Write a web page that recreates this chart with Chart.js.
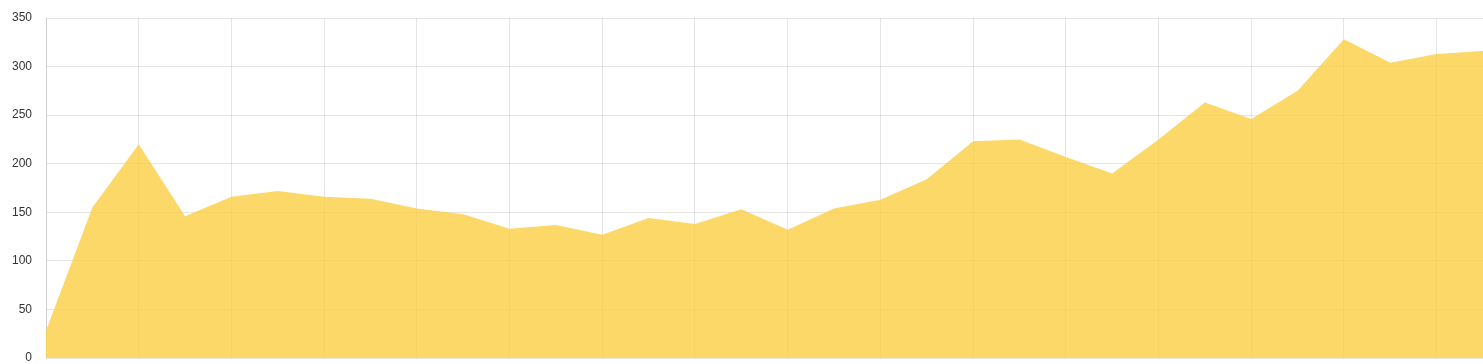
<!DOCTYPE html>
<html>
<head>
<meta charset="utf-8">
<script src="https://cdn.jsdelivr.net/npm/chart.js@4/dist/chart.umd.min.js"></script>
<style>
  html, body { margin: 0; padding: 0; background: #fff; }
  .chart-wrap { position: relative; width: 1483px; height: 364px; }
</style>
</head>
<body>
<div class="chart-wrap"><canvas id="chart-area"></canvas></div>
<script>
// categories (x labels are hidden in the picture)
var labels = ["1", "2", "3", "4", "5", "6", "7", "8", "9", "10", "11", "12", "13", "14", "15", "16",
              "17", "18", "19", "20", "21", "22", "23", "24", "25", "26", "27", "28", "29", "30", "31", "32"];

// series values
var values = [28, 155, 220, 146, 166, 172, 166, 164, 154, 148, 133, 137, 127, 144, 138, 153,
              132, 154, 163, 184, 223, 225, 207, 190, 225, 263, 246, 275, 328, 304, 313, 316];

// y axis range
var yMin = 0;
var yMax = 350;
var yStep = 50;

var gridColor = "rgba(0,0,0,0.1)";

Chart.defaults.font.family = "'Liberation Sans', Arial, sans-serif";
Chart.defaults.font.size = 12;

var ctx = document.getElementById("chart-area");
var areaChart = new Chart(ctx, {
  type: "line",
  data: {
    labels: labels,
    datasets: [
      {
        label: "Series",
        data: values,
        fill: "origin",
        backgroundColor: "rgba(250,205,60,0.78)",
        borderColor: "rgba(250,205,60,0)",
        borderWidth: 0,
        pointRadius: 0,
        tension: 0
      }
    ]
  },
  options: {
    responsive: true,
    maintainAspectRatio: false,
    animation: false,
    layout: {
      padding: { top: 18, right: 0, bottom: 0, left: 12 }
    },
    plugins: {
      legend: { display: false },
      tooltip: { enabled: false }
    },
    scales: {
      x: {
        ticks: { display: false },
        grid: {
          drawTicks: false,
          // only every other category gets a line
          color: function (context) {
            return context.index % 2 === 0 ? gridColor : "rgba(0,0,0,0)";
          }
        },
        border: { display: false },
        // the x axis has no labels, so it takes no room
        afterFit: function (scale) {
          scale.height = 0;
        }
      },
      y: {
        min: yMin,
        max: yMax,
        ticks: {
          stepSize: yStep,
          color: "#333",
          padding: 0,
          font: { lineHeight: 1 }
        },
        grid: {
          // invisible tick marks keep the labels away from the axis
          drawTicks: true,
          tickLength: 14,
          tickColor: "rgba(0,0,0,0)",
          color: gridColor
        },
        border: { color: gridColor }
      }
    }
  }
});
</script>
</body>
</html>
